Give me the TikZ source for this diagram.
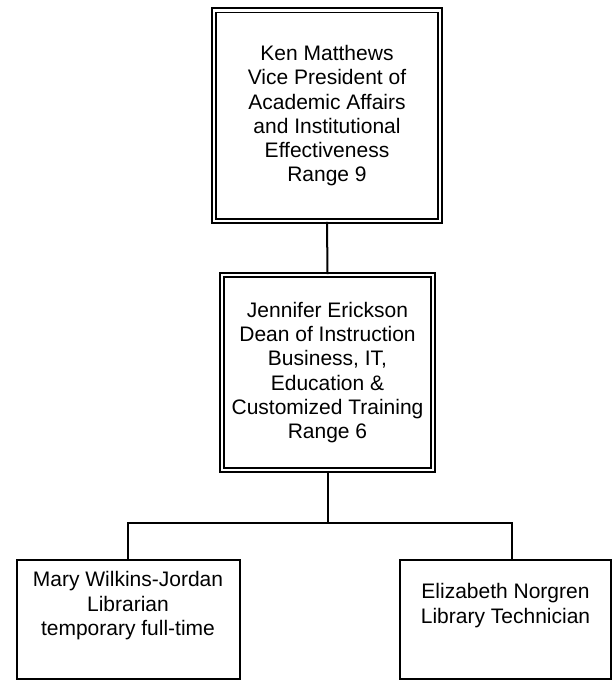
\documentclass[tikz,border=0pt]{standalone}
\usepackage{fontspec}
\setmainfont{Liberation Sans}
\begin{document}
\begin{tikzpicture}[x=0.75pt,y=-0.75pt,
  txt/.style={align=center,font=\fontsize{15.75pt}{18.2pt}\selectfont,inner sep=0pt},
  dbox/.style={txt,draw=black,line width=1.2pt,double=white,double distance=2.1pt},
  sbox/.style={txt,draw=black,line width=1.5pt},
  conn/.style={draw=black,line width=1.5pt}]
\useasboundingbox (0,0) rectangle (612,680);
\node[dbox,minimum width=169.5pt,minimum height=157.9pt] (top) at (327,115.75)
  {Ken Matthews\\Vice President of\\Academic Affairs\\and Institutional\\Effectiveness\\Range 9};
\node[dbox,minimum width=158.25pt,minimum height=146.25pt] (mid) at (327.5,372.5)
  {Jennifer Erickson\\Dean of Instruction\\Business, IT,\\Education \&\\Customized Training\\Range 6};
\node[sbox,minimum width=167.25pt,minimum height=89.6pt] (lb) at (128,619.25)
  {Mary Wilkins-Jordan\\Librarian\\temporary full-time\\\strut};
\node[sbox,minimum width=158.25pt,minimum height=89.6pt] (rb) at (505.5,619.25)
  {Elizabeth Norgren\\Library Technician\\\strut};
\coordinate (bar) at (327.5,523);
\coordinate (rtop) at (512,559.5);
\draw[conn] (top.south) -- (mid.north);
\draw[conn] (mid.south) -- (bar);
\draw[conn] (lb.north) |- (bar) -| (rtop);
\end{tikzpicture}
\end{document}
